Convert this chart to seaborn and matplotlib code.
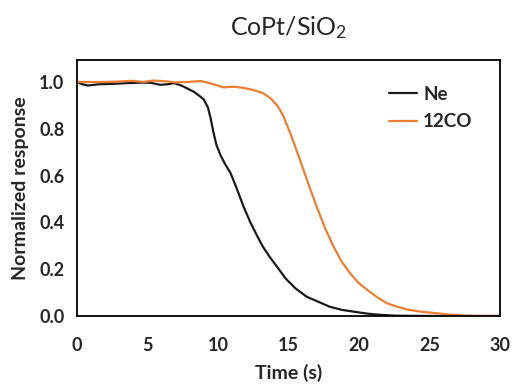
import numpy as np
import pandas as pd
import matplotlib
matplotlib.use("Agg")
import matplotlib.pyplot as plt
import seaborn as sns

# values
ne_t = [0, 0.4, 0.8, 1.5, 2.5, 3.5, 4.5, 5.2, 5.9, 6.4, 6.9, 7.4, 7.8, 8.3, 8.7, 9.0, 9.3, 9.5, 9.7, 9.9,
        10.2, 10.5, 10.9, 11.3, 11.8, 12.3, 12.8, 13.2, 13.7, 14.2, 14.8, 15.5, 16.3, 17.0, 17.9, 18.8, 19.8,
        20.6, 21.5, 22.7, 25, 30]
ne_v = [1.0, 0.99, 0.985, 0.99, 0.992, 0.995, 0.997, 0.997, 0.988, 0.99, 0.995, 0.985, 0.973, 0.958, 0.94, 0.925, 0.89, 0.84,
        0.78, 0.73, 0.685, 0.65, 0.61, 0.55, 0.47, 0.40, 0.34, 0.295, 0.25, 0.21, 0.16, 0.118, 0.082, 0.064, 0.04, 0.026,
        0.017, 0.01, 0.005, 0.001, 0.0, 0.0]

co_t = [0, 1.0, 2.0, 3.0, 3.9, 4.7, 5.4, 6.3, 7.0, 7.8, 8.8, 9.7, 10.4, 11.1, 11.8, 12.5, 13.2, 13.7,
        14.2, 14.6, 15.2, 15.8, 16.4, 17.0, 17.6, 18.2, 18.8, 19.4, 20.0, 20.6, 21.3, 22.0, 22.7, 23.4, 24.2,
        25.1, 26.3, 27.5, 28.5, 30]
co_v = [1.0, 1.0, 1.0, 1.002, 1.005, 1.0, 1.006, 1.003, 0.998, 1.0, 1.004, 0.99, 0.977, 0.98, 0.975, 0.966, 0.952, 0.932,
        0.9, 0.86, 0.77, 0.67, 0.567, 0.467, 0.375, 0.296, 0.23, 0.18, 0.14, 0.111, 0.08, 0.054, 0.04, 0.028, 0.02,
        0.014, 0.007, 0.002, 0.0, 0.0]

df = pd.concat([
    pd.DataFrame({"time": ne_t, "resp": ne_v, "gas": "Ne"}),
    pd.DataFrame({"time": co_t, "resp": co_v, "gas": "12CO"}),
])

sns.set_style("white")
plt.rcParams['font.family'] = ['Lato', 'DejaVu Sans']
plt.rcParams['mathtext.default'] = 'regular'

fig = plt.figure(figsize=(5.16, 3.87), dpi=100)
ax = fig.add_axes([0.149, 0.1835, 0.82, 0.6615])

sns.lineplot(data=df, x="time", y="resp", hue="gas", palette={"Ne": "#1a1a1a", "12CO": "#ED7D31"},
             linewidth=1.6, ax=ax)

ax.set_xlim(0, 30)
ax.set_ylim(0, 1.094)
ax.set_xticks([0, 5, 10, 15, 20, 25, 30])
ax.set_yticks([0.0, 0.2, 0.4, 0.6, 0.8, 1.0])
ax.set_yticklabels(["0.0", "0.2", "0.4", "0.6", "0.8", "1.0"])
ax.tick_params(direction="in", length=4, width=0.8, color="#555555", labelsize=13, pad=9)
for lab in ax.get_xticklabels() + ax.get_yticklabels():
    lab.set_fontweight("bold")
ax.tick_params(axis="x", pad=15)
for sp in ax.spines.values():
    sp.set_color("black")
    sp.set_linewidth(1.3)

ax.set_xlabel("Time (s)", fontsize=14, fontweight="bold", labelpad=7)
ax.set_ylabel("Normalized response", fontsize=14, fontweight="bold", labelpad=7)
ax.set_title("CoPt/SiO$_2$", fontsize=18, pad=18)

leg = ax.legend(loc="upper right", bbox_to_anchor=(0.975, 0.965), frameon=False,
                prop={"weight": "bold", "size": 13.5}, handlelength=1.5, handletextpad=0.3, labelspacing=0.55)

fig.savefig("out.png", dpi=100)
